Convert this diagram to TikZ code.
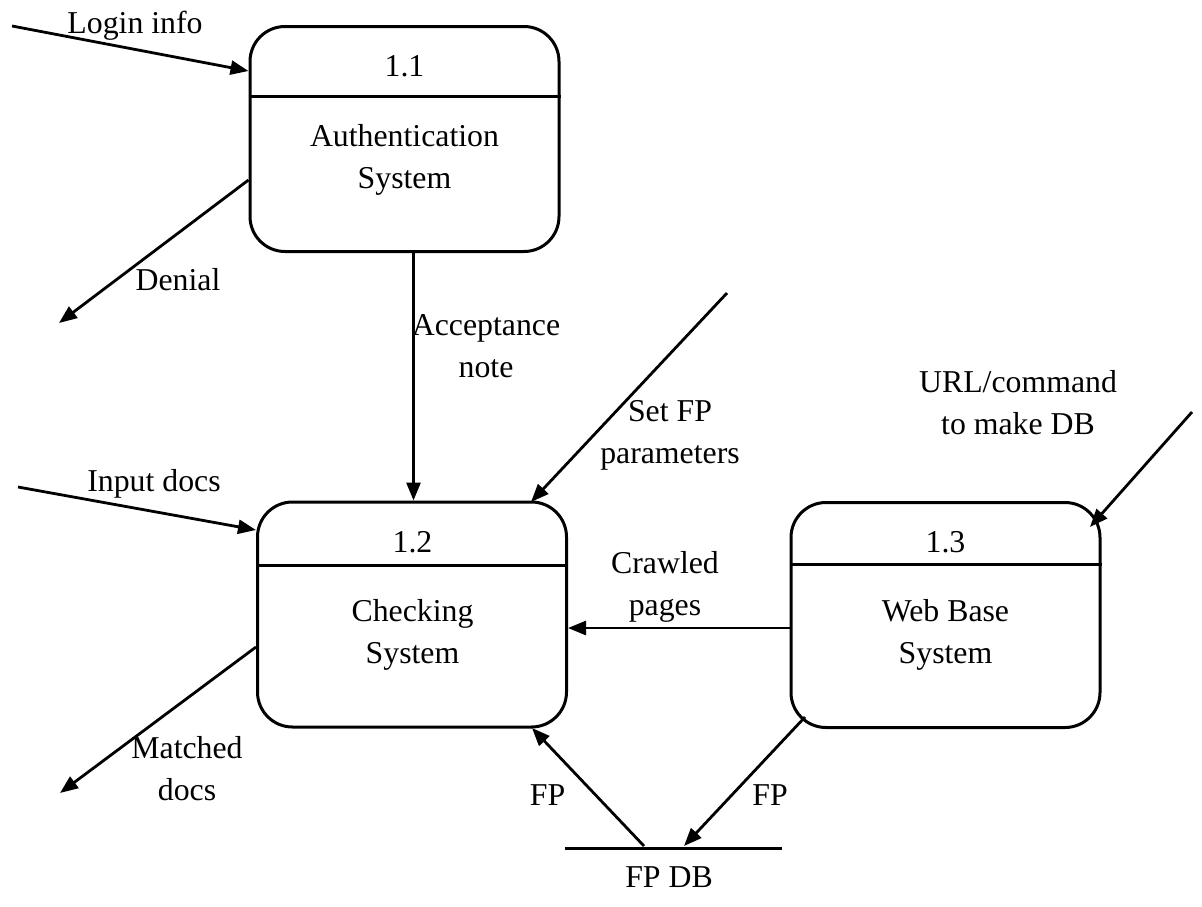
\documentclass[tikz,border=0pt]{standalone}
\usepackage{fontspec}
\setmainfont{Liberation Serif}
\usetikzlibrary{arrows.meta}
\begin{document}
\begin{tikzpicture}[x=1pt,y=-1pt,
  proc/.style={draw, line width=3pt, rounded corners=35pt, inner sep=0pt,
    minimum width=309pt, minimum height=225pt},
  divider/.style={line width=3pt},
  flow/.style={line width=2.8pt, -{Triangle[length=18pt,width=14pt]}},
  txt/.style={font=\fontsize{31.8}{42}\selectfont, inner sep=0pt, align=center, anchor=base}
]
\useasboundingbox (0,0) rectangle (1202,906);

% processes
\node[proc] (b11) at (404.5,139) {};
\node[proc] (b12) at (412,614.5) {};
\node[proc] (b13) at (945.5,615) {};

\draw[divider] (b11.west |- 0,96) -- (b11.east |- 0,96);
\draw[divider] (b12.west |- 0,565) -- (b12.east |- 0,565);
\draw[divider] (b13.west |- 0,564) -- (b13.east |- 0,564);

% process numbers and names (base = last line's baseline)
\node[txt] (n11) at (404.5,76) {1.1};
\node[txt] (t11) at (404.5,188) {Authentication\\System};
\node[txt] (n12) at (412.5,552) {1.2};
\node[txt] (t12) at (412.5,663) {Checking\\System};
\node[txt] (n13) at (945.5,552) {1.3};
\node[txt] (t13) at (945.5,663) {Web Base\\System};

% data store
\coordinate (dbl) at (565,848);
\coordinate (dbr) at (782,848);
\draw[divider] (dbl) -- (dbr);
\node[txt] (fpdb) at (669,887) {FP DB};

% external ends
\coordinate (login) at (12,26);
\coordinate (denial) at (59,323);
\coordinate (input) at (18,487);
\coordinate (matched) at (60,793);
\coordinate (setfp) at (727,293);
\coordinate (url) at (1192,412);

% flows
\draw[flow] (login) -- (b11.west |- 0,71);
\draw[flow] (b11.west |- 0,180) -- (denial);
\draw[flow] ([xshift=1.5pt]b12.north |- b11.south) -- ([xshift=1.5pt]b12.north);
\draw[flow] (input) -- (b12.west |- 0,530);
\draw[flow] (b12.west |- 0,647) -- (matched);
\draw[flow] (setfp) -- (531,502);
\draw[flow] (url) -- (1090,527);
\draw[flow] (b13.west |- 0,628) -- (b12.east |- 0,628);
\draw[flow] (805,717) -- (684,846);
\draw[flow] (644,846) -- (532,728);

% flow labels
\node[txt] (llogin) at (135,33) {Login info};
\node[txt] (ldenial) at (178,290) {Denial};
\node[txt] (lacc) at (486,377) {Acceptance\\note};
\node[txt] (lset) at (670,463) {Set FP\\parameters};
\node[txt] (lurl) at (1018,434) {URL/command\\to make DB};
\node[txt] (linput) at (154,491) {Input docs};
\node[txt] (lcrawl) at (665,615) {Crawled\\pages};
\node[txt] (lmatch) at (187,800) {Matched\\docs};
\node[txt] (lfpl) at (547.5,805) {FP};
\node[txt] (lfpr) at (770,805) {FP};
\end{tikzpicture}
\end{document}
